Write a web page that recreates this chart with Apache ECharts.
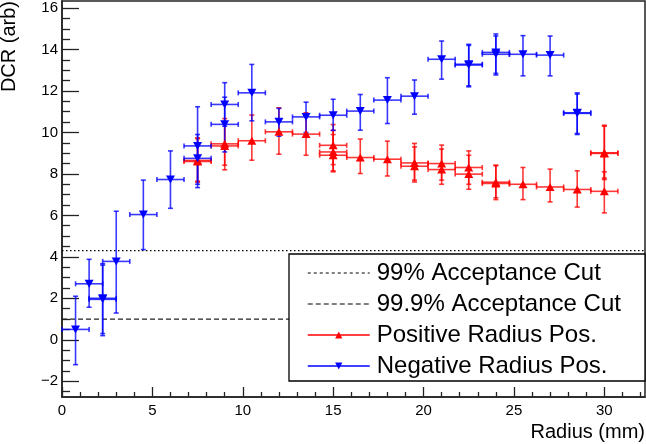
<!DOCTYPE html>
<html>
<head>
<meta charset="utf-8">
<script src="https://cdn.jsdelivr.net/npm/echarts@6/dist/echarts.min.js"></script>
<style>html,body{margin:0;padding:0;background:#fff}#c{width:646px;height:444px}</style>
</head>
<body>
<div id="c"></div>
<script>
// ---- data ----
const binHalfWidth = 0.75;

const negR    = [0.75, 1.5, 2.25, 2.25, 3.0, 4.5, 6.0, 7.5, 7.5, 9.0, 9.0, 10.5, 12.0, 13.5, 15.0, 16.5, 18.0, 19.5, 21.0, 22.5, 22.5, 24.0, 24.0, 25.5, 27.0, 28.5, 28.5];
const negDCR  = [0.5, 2.7, 2.0, 1.95, 3.78, 6.04, 7.73, 9.35, 8.75, 11.35, 10.39, 11.91, 10.51, 10.75, 10.83, 11.03, 11.56, 11.75, 13.53, 13.29, 13.25, 13.86, 13.77, 13.77, 13.73, 10.95, 10.92];
const negLow  = [-1.2, 1.57, 0.2, 0.3, 1.29, 4.35, 6.34, 7.5, 7.34, 10.3, 9.06, 10.56, 9.82, 10.0, 10.1, 10.11, 10.43, 10.88, 12.57, 12.2, 12.25, 12.77, 12.85, 12.73, 12.73, 9.9, 9.95];
const negHigh = [2.1, 3.88, 3.67, 3.6, 6.2, 7.7, 9.11, 11.24, 9.9, 12.4, 11.7, 13.28, 11.16, 11.46, 11.6, 11.83, 12.64, 12.53, 14.41, 14.25, 14.2, 14.75, 14.65, 14.67, 14.65, 11.91, 11.85];

const posR    = [7.5, 7.5, 9.0, 9.0, 10.5, 12.0, 13.5, 15.0, 15.0, 15.0, 16.5, 18.0, 19.5, 19.5, 21.0, 21.0, 22.5, 22.5, 24.0, 24.0, 25.5, 27.0, 28.5, 30.0, 30.0, 30.0];
const posDCR  = [8.65, 8.6, 9.35, 9.45, 9.6, 10.03, 9.92, 9.38, 9.06, 8.9, 8.79, 8.71, 8.53, 8.37, 8.5, 8.21, 8.31, 7.99, 7.54, 7.6, 7.5, 7.37, 7.25, 8.99, 9.02, 7.16];
const posLow  = [7.6, 7.65, 8.2, 8.42, 8.66, 8.95, 8.9, 8.45, 8.1, 8.15, 8.02, 7.9, 7.7, 7.61, 7.7, 7.5, 7.5, 7.26, 6.76, 6.85, 6.76, 6.65, 6.4, 7.73, 7.8, 6.12];
const posHigh = [9.74, 9.7, 10.67, 10.5, 10.84, 11.19, 10.95, 10.38, 10.1, 9.9, 9.68, 9.58, 9.47, 9.3, 9.39, 9.2, 9.11, 8.9, 8.42, 8.4, 8.31, 8.23, 8.15, 10.35, 10.3, 8.1];

const cut99  = 4.3;
const cut999 = 1.0;

const xMajorTicks = [0, 5, 10, 15, 20, 25, 30];
const yMajorTicks = [-2, 0, 2, 4, 6, 8, 10, 12, 14, 16];

const X_MIN = 0, X_MAX = 32.25, Y_MIN = -2.76, Y_MAX = 16.34;

// ---- build ----
const FONT = '"Liberation Sans", Arial, Helvetica, sans-serif';
const xMinor = []; for (let v = 1; v <= 32; v += 1) if (v % 5 !== 0) xMinor.push(v);
const yMinor = []; for (let v = -2.5; v <= 16.01; v += 0.5) if (Math.abs(v % 2) > 1e-6) yMinor.push(+v.toFixed(2));

function rows(xs, ys, lo, hi) { return xs.map((x, i) => [x, ys[i], lo[i], hi[i], binHalfWidth]); }
const negRows = rows(negR, negDCR, negLow, negHigh);
const posRows = rows(posR, posDCR, posLow, posHigh);

function errRender(color) {
  return function (params, api) {
    const x = api.value(0), y = api.value(1), lo = api.value(2), hi = api.value(3), xe = api.value(4);
    const pLo = api.coord([x, lo]), pHi = api.coord([x, hi]);
    const pL = api.coord([x - xe, y]), pR = api.coord([x + xe, y]);
    const cap = 2.5;
    const st = { stroke: color, lineWidth: 1.6 };
    const L = (x1, y1, x2, y2) => ({ type: 'line', shape: { x1, y1, x2, y2 }, style: st });
    return {
      type: 'group',
      children: [
        L(pLo[0], pLo[1], pHi[0], pHi[1]),
        L(pL[0], pL[1], pR[0], pR[1]),
        L(pLo[0] - cap, pLo[1], pLo[0] + cap, pLo[1]),
        L(pHi[0] - cap, pHi[1], pHi[0] + cap, pHi[1]),
        L(pL[0], pL[1] - cap, pL[0], pL[1] + cap),
        L(pR[0], pR[1] - cap, pR[0], pR[1] + cap)
      ]
    };
  };
}

const chart = echarts.init(document.getElementById('c'), null, { renderer: 'canvas' });
chart.setOption({
  animation: false,
  backgroundColor: '#fff',
  grid: { left: 62, right: 1, top: 1, bottom: 47, show: true, borderColor: '#222', borderWidth: 1.5, backgroundColor: 'transparent' },
  xAxis: [
    { type: 'value', min: X_MIN, max: X_MAX, interval: 5, position: 'bottom',
      axisLine: { show: true, onZero: false, lineStyle: { color: '#222', width: 1.5 } },
      axisTick: { show: true, inside: true, length: 10, customValues: xMajorTicks, lineStyle: { color: '#222', width: 1.3 } },
      axisLabel: { show: true, customValues: xMajorTicks, margin: 6, fontSize: 15, fontFamily: FONT, color: '#000' },
      splitLine: { show: false } },
    { type: 'value', min: X_MIN, max: X_MAX, position: 'bottom',
      axisLine: { show: false, onZero: false },
      axisTick: { show: true, inside: true, length: 5, customValues: xMinor, lineStyle: { color: '#222', width: 1.3 } },
      axisLabel: { show: false }, splitLine: { show: false } }
  ],
  yAxis: [
    { type: 'value', min: Y_MIN, max: Y_MAX, position: 'left',
      axisLine: { show: true, onZero: false, lineStyle: { color: '#222', width: 1.5 } },
      axisTick: { show: true, inside: true, length: 17, customValues: yMajorTicks, lineStyle: { color: '#222', width: 1.3 } },
      axisLabel: { show: true, customValues: yMajorTicks, margin: 4, fontSize: 15, fontFamily: FONT, color: '#000',
        formatter: v => String(v).replace('-', '\u2212') },
      splitLine: { show: false } },
    { type: 'value', min: Y_MIN, max: Y_MAX, position: 'left',
      axisLine: { show: false, onZero: false },
      axisTick: { show: true, inside: true, length: 8, customValues: yMinor, lineStyle: { color: '#222', width: 1.3 } },
      axisLabel: { show: false }, splitLine: { show: false } }
  ],
  legend: {
    orient: 'vertical', left: 302, top: 256, itemWidth: 62, itemHeight: 9, itemGap: 7,
    selectedMode: false, z: 10,
    textStyle: { fontSize: 24, fontFamily: FONT, color: '#000', lineHeight: 24, padding: [0, 0, 0, 2] },
    data: [
      { name: '99% Acceptance Cut', itemStyle: { opacity: 0 }, lineStyle: { type: [3, 3], width: 1, color: '#000' } },
      { name: '99.9% Acceptance Cut', itemStyle: { opacity: 0 }, lineStyle: { type: [5, 3], width: 1, color: '#000' } },
      { name: 'Positive Radius Pos.', lineStyle: { opacity: 1, width: 1.5, color: '#ff0000' } },
      { name: 'Negative Radius Pos.', lineStyle: { opacity: 1, width: 1.5, color: '#0000ff' } }
    ]
  },
  graphic: [
    { type: 'rect', z: 5, shape: { x: 289, y: 254, width: 356, height: 127 }, style: { fill: '#fff', stroke: '#000', lineWidth: 1.3 } },
    { type: 'text', z: 5, x: 9, y: 1, rotation: Math.PI / 2,
      style: { text: 'DCR (arb)', font: '20px ' + FONT, fill: '#000', textAlign: 'right', textVerticalAlign: 'middle' } },
    { type: 'text', z: 5, x: 645, y: 432,
      style: { text: 'Radius (mm)', font: '20px ' + FONT, fill: '#000', textAlign: 'right', textVerticalAlign: 'middle' } }
  ],
  series: [
    { name: '99% Acceptance Cut', type: 'line', xAxisIndex: 0, yAxisIndex: 0, symbol: 'none', silent: true, z: 1,
      data: [[X_MIN, cut99], [X_MAX, cut99]], lineStyle: { color: '#000', width: 1.2, type: [1.5, 2.5] } },
    { name: '99.9% Acceptance Cut', type: 'line', xAxisIndex: 0, yAxisIndex: 0, symbol: 'none', silent: true, z: 1,
      data: [[X_MIN, cut999], [X_MAX, cut999]], lineStyle: { color: '#222', width: 1.2, type: [5, 3] } },
    { name: 'posErr', type: 'custom', xAxisIndex: 0, yAxisIndex: 0, silent: true, z: 2,
      encode: { x: 0, y: 1 }, data: posRows, renderItem: errRender('rgba(255,0,0,0.78)') },
    { name: 'negErr', type: 'custom', xAxisIndex: 0, yAxisIndex: 0, silent: true, z: 2,
      encode: { x: 0, y: 1 }, data: negRows, renderItem: errRender('rgba(0,0,255,0.78)') },
    { name: 'Positive Radius Pos.', type: 'line', xAxisIndex: 0, yAxisIndex: 0, silent: true, z: 3,
      data: posRows.map(r => [r[0], r[1]]), symbol: 'triangle', symbolSize: [9, 8], showAllSymbol: true,
      itemStyle: { color: '#ff0000' }, lineStyle: { opacity: 0, color: '#ff0000' } },
    { name: 'Negative Radius Pos.', type: 'line', xAxisIndex: 0, yAxisIndex: 0, silent: true, z: 3,
      data: negRows.map(r => [r[0], r[1]]), symbol: 'triangle', symbolRotate: 180, symbolSize: [9, 8], showAllSymbol: true,
      itemStyle: { color: '#0000ff' }, lineStyle: { opacity: 0, color: '#0000ff' } }
  ]
});
</script>
</body>
</html>
